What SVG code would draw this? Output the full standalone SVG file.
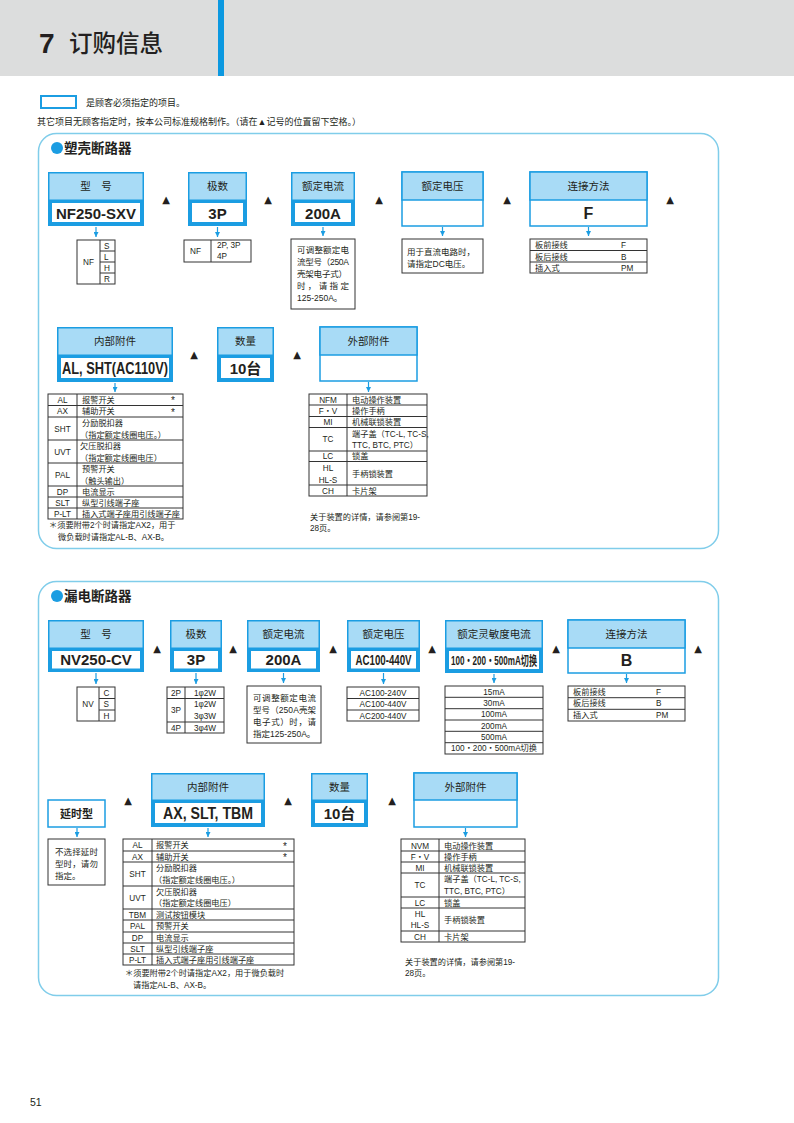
<svg xmlns="http://www.w3.org/2000/svg" width="794" height="1123" viewBox="0 0 794 1123">
<defs>
<style>
text{font-family:"Liberation Sans","Noto Sans CJK SC",sans-serif;fill:#231f20}
.pn{fill:none;stroke:#80cdea;stroke-width:1.5}
.ob{fill:#1b9de2}
.hd{fill:#a8dbf6}
.wb{fill:#fff}
.ub{fill:#fff;stroke:#1b9de2;stroke-width:1.5}
.uh{fill:#a8dbf6;stroke:#1b9de2;stroke-width:1.5}
.tb{fill:#fff;stroke:#333;stroke-width:1}
.ln{stroke:#333;stroke-width:1;fill:none}
.lb{font-size:10.5px;text-anchor:middle}
.v{font-size:15px;font-weight:bold;text-anchor:middle}
.t{font-size:8.2px}
.tc{font-size:8.2px;text-anchor:middle}
.tr{font-size:10px;text-anchor:middle;font-family:"DejaVu Sans",sans-serif}
.ar{stroke:#1b9de2;stroke-width:1.2;fill:none}
.st{font-size:13.5px;font-weight:bold}
</style>
<marker id="ah" viewBox="0 0 6 6" refX="6" refY="3" markerWidth="5" markerHeight="5" markerUnits="userSpaceOnUse" orient="auto"><path d="M0,0 L6,3 L0,6 z" fill="#1b9de2"/></marker>
</defs>
<rect width="794" height="1123" fill="#fff"/>
<g id="header">
<rect x="0" y="0" width="794" height="76" fill="#dcdddd"/>
<rect x="218" y="0" width="6" height="76" fill="#0b98e0"/>
<text x="39" y="53" style="font-size:28px;font-weight:bold">7</text>
<text x="69" y="52" style="font-size:23.5px;font-weight:500;font-family:'Noto Sans CJK SC',sans-serif">订购信息</text>
</g>
<g id="legend">
<rect x="41" y="96" width="35" height="12" fill="#fff" stroke="#1b9de2" stroke-width="2"/>
<text x="86" y="106" style="font-size:9px">是顾客必须指定的项目。</text>
<text x="37" y="124.5" style="font-size:9px">其它项目无顾客指定时，按本公司标准规格制作。（请在▲记号的位置留下空格。）</text>
</g>

<g id="section1">
<rect class="pn" x="38.5" y="133.5" width="680" height="415" rx="18"/>
<circle cx="57" cy="148" r="6" fill="#1b9de2"/>
<text class="st" x="64" y="153">塑壳断路器</text>
</g>

<g id="s1-model">
<rect class="ob" x="48" y="172" width="96" height="54"/>
<rect class="hd" x="49.5" y="173.5" width="93" height="26"/>
<rect class="wb" x="52" y="203" width="88" height="19"/>
<text class="lb" x="96" y="190">型　号</text>
<text class="v" x="96" y="218.5">NF250-SXV</text>
</g>
<g id="s1-poles">
<rect class="ob" x="188" y="172" width="59" height="54"/>
<rect class="hd" x="189.5" y="173.5" width="56" height="26"/>
<rect class="wb" x="192" y="203" width="51" height="19"/>
<text class="lb" x="217.5" y="190">极数</text>
<text class="v" x="217.5" y="218.5">3P</text>
</g>
<g id="s1-current">
<rect class="ob" x="291" y="172" width="64" height="54"/>
<rect class="hd" x="292.5" y="173.5" width="61" height="26"/>
<rect class="wb" x="295" y="203" width="56" height="19"/>
<text class="lb" x="323" y="190">额定电流</text>
<text class="v" x="323" y="218.5">200A</text>
</g>
<g id="s1-voltage">
<rect class="ub" x="402" y="172" width="81" height="54"/>
<rect class="uh" x="402" y="172" width="81" height="28"/>
<text class="lb" x="442.5" y="190">额定电压</text>
</g>
<g id="s1-conn">
<rect class="ub" x="530" y="172" width="117" height="54"/>
<rect class="uh" x="530" y="172" width="117" height="28"/>
<text class="lb" x="588.5" y="190">连接方法</text>
<text class="v" x="588.5" y="219" style="font-size:16px">F</text>
</g>
<g id="s1-sep1">
<text class="tr" x="166" y="202.5">▲</text>
<text class="tr" x="268" y="202.5">▲</text>
<text class="tr" x="379" y="202.5">▲</text>
<text class="tr" x="507" y="202.5">▲</text>
<text class="tr" x="670" y="202.5">▲</text>
</g>

<g id="s1-t-model">
<rect class="tb" x="77" y="240" width="38" height="44"/>
<path class="ln" d="M100,240 V284 M100,251 H115 M100,262 H115 M100,273 H115"/>
<text class="tc" x="88.5" y="265">NF</text>
<text class="t" x="104" y="248.5">S</text>
<text class="t" x="104" y="259.5">L</text>
<text class="t" x="104" y="270.5">H</text>
<text class="t" x="104" y="281.5">R</text>
</g>
<g id="s1-t-poles">
<rect class="tb" x="184" y="240" width="67" height="22"/>
<path class="ln" d="M211,240 V262"/>
<text class="t" x="190" y="254">NF</text>
<text class="t" x="217" y="248">2P, 3P</text>
<text class="t" x="217" y="259">4P</text>
</g>
<g id="s1-t-current">
<rect class="tb" x="291" y="239" width="64" height="70"/>
<text class="t" x="297" y="253" textLength="52" style="font-size:8.5px">可调整额定电</text>
<text class="t" x="297" y="265" textLength="52" style="font-size:8.5px">流型号（250A</text>
<text class="t" x="297" y="277" textLength="50" style="font-size:8.5px">壳架电子式）</text>
<text class="t" x="297" y="289" textLength="52" style="font-size:8.5px">时，请指定</text>
<text class="t" x="297" y="301" style="font-size:8.5px">125-250A。</text>
</g>
<g id="s1-t-voltage">
<rect class="tb" x="402" y="239" width="81" height="34"/>
<text class="t" x="407" y="255" style="font-size:8.5px">用于直流电路时，</text>
<text class="t" x="407" y="267" style="font-size:8.5px">请指定DC电压。</text>
</g>
<g id="s1-t-conn">
<rect class="tb" x="530" y="239" width="117" height="34"/>
<path class="ln" d="M530,250.5 H647 M530,262 H647"/>
<text class="t" x="535" y="248">板前接线</text><text class="t" x="621" y="248">F</text>
<text class="t" x="535" y="259.5">板后接线</text><text class="t" x="621" y="259.5">B</text>
<text class="t" x="535" y="271">插入式</text><text class="t" x="621" y="271">PM</text>
</g>

<g id="s1-internal">
<rect class="ob" x="57" y="327" width="116" height="55"/>
<rect class="hd" x="58.5" y="328.5" width="113" height="26"/>
<rect class="wb" x="61" y="358" width="108" height="20"/>
<text class="lb" x="115" y="345">内部附件</text>
<text class="v" x="115" y="374" textLength="106" lengthAdjust="spacingAndGlyphs" style="font-size:16px">AL, SHT(AC110V)</text>
</g>
<g id="s1-qty">
<rect class="ob" x="217" y="327" width="57" height="55"/>
<rect class="hd" x="218.5" y="328.5" width="54" height="26"/>
<rect class="wb" x="221" y="358" width="49" height="20"/>
<text class="lb" x="245.5" y="345">数量</text>
<text class="v" x="245.5" y="374">10台</text>
</g>
<g id="s1-external">
<rect class="ub" x="320" y="327" width="97" height="54"/>
<rect class="uh" x="320" y="327" width="97" height="28"/>
<text class="lb" x="368.5" y="345">外部附件</text>
</g>
<g id="s1-sep2">
<text class="tr" x="194" y="358">▲</text>
<text class="tr" x="297" y="358">▲</text>
</g>

<g id="s1-t-internal">
<rect class="tb" x="48" y="394" width="135" height="125"/>
<path class="ln" d="M77,394 V519 M48,405.5 H183 M48,417 H183 M48,440 H183 M48,463 H183 M48,486 H183 M48,497 H183 M48,508 H183"/>
<text class="tc" x="62.5" y="402.5">AL</text><text class="t" x="82" y="402.5">报警开关</text><text class="t" x="171" y="404" style="font-size:10px">*</text>
<text class="tc" x="62.5" y="414">AX</text><text class="t" x="82" y="414">辅助开关</text><text class="t" x="171" y="415.5" style="font-size:10px">*</text>
<text class="tc" x="62.5" y="431.5">SHT</text><text class="t" x="82" y="426">分励脱扣器</text><text class="t" x="80" y="437.5">（指定额定线圈电压。）</text>
<text class="tc" x="62.5" y="454.5">UVT</text><text class="t" x="80" y="449">欠压脱扣器</text><text class="t" x="80" y="460.5">（指定额定线圈电压）</text>
<text class="tc" x="62.5" y="477.5">PAL</text><text class="t" x="82" y="472">预警开关</text><text class="t" x="80" y="483.5">（触头输出）</text>
<text class="tc" x="62.5" y="494.5">DP</text><text class="t" x="82" y="494.5">电流显示</text>
<text class="tc" x="62.5" y="505.5">SLT</text><text class="t" x="82" y="505.5">纵型引线端子座</text>
<text class="tc" x="62.5" y="516.5">P-LT</text><text class="t" x="82" y="516.5" textLength="98">插入式端子座用引线端子座</text>
<text class="t" x="49" y="527.5">＊须要附带2个时请指定AX2，用于</text>
<text class="t" x="58" y="540">微负载时请指定AL-B、AX-B。</text>
</g>
<g id="s1-t-external">
<rect class="tb" x="309" y="394" width="118" height="102"/>
<path class="ln" d="M347,394 V496 M309,405 H427 M309,416.5 H427 M309,427.5 H427 M309,451 H427 M309,461.5 H427 M309,485 H427"/>
<text class="tc" x="328" y="402.5">NFM</text><text class="t" x="352" y="402.5">电动操作装置</text>
<text class="tc" x="328" y="414">F・V</text><text class="t" x="352" y="414">操作手柄</text>
<text class="tc" x="328" y="425">MI</text><text class="t" x="352" y="425">机械联锁装置</text>
<text class="tc" x="328" y="442">TC</text><text class="t" x="352" y="437">端子盖（TC-L, TC-S,</text><text class="t" x="352" y="448">TTC, BTC, PTC）</text>
<text class="tc" x="328" y="459">LC</text><text class="t" x="352" y="459">锁盖</text>
<text class="tc" x="328" y="471">HL</text><text class="tc" x="328" y="482.5">HL-S</text><text class="t" x="352" y="476.5">手柄锁装置</text>
<text class="tc" x="328" y="493.5">CH</text><text class="t" x="352" y="493.5">卡片架</text>
<text class="t" x="310" y="520">关于装置的详情，请参阅第19-</text>
<text class="t" x="310" y="531">28页。</text>
</g>

<g id="section2">
<rect class="pn" x="38.5" y="581.5" width="680" height="414" rx="18"/>
<circle cx="57" cy="596" r="6" fill="#1b9de2"/>
<text class="st" x="64" y="601">漏电断路器</text>
</g>
<g id="s2-model">
<rect class="ob" x="48" y="620" width="96" height="52"/>
<rect class="hd" x="49.5" y="621.5" width="93" height="26"/>
<rect class="wb" x="52" y="651" width="88" height="17.5"/>
<text class="lb" x="96" y="638">型　号</text>
<text class="v" x="96" y="665">NV250-CV</text>
</g>
<g id="s2-poles">
<rect class="ob" x="170" y="620" width="52" height="52"/>
<rect class="hd" x="171.5" y="621.5" width="49" height="26"/>
<rect class="wb" x="174" y="651" width="44" height="17.5"/>
<text class="lb" x="196" y="638">极数</text>
<text class="v" x="196" y="665">3P</text>
</g>
<g id="s2-current">
<rect class="ob" x="247" y="620" width="73" height="52"/>
<rect class="hd" x="248.5" y="621.5" width="70" height="26"/>
<rect class="wb" x="251" y="651" width="65" height="17.5"/>
<text class="lb" x="283.5" y="638">额定电流</text>
<text class="v" x="283.5" y="665">200A</text>
</g>
<g id="s2-voltage">
<rect class="ob" x="347" y="620" width="73" height="52"/>
<rect class="hd" x="348.5" y="621.5" width="70" height="26"/>
<rect class="wb" x="351" y="651" width="65" height="17.5"/>
<text class="lb" x="383.5" y="638">额定电压</text>
<text class="v" x="383.5" y="665" textLength="56" lengthAdjust="spacingAndGlyphs" style="font-size:14px">AC100-440V</text>
</g>
<g id="s2-sens">
<rect class="ob" x="445" y="620" width="98" height="53"/>
<rect class="hd" x="446.5" y="621.5" width="95" height="26"/>
<rect class="wb" x="449" y="651" width="90" height="18"/>
<text class="lb" x="494" y="638">额定灵敏度电流</text>
<text class="v" x="494" y="665" textLength="86" lengthAdjust="spacingAndGlyphs" style="font-size:13px">100・200・500mA切换</text>
</g>
<g id="s2-conn">
<rect class="ub" x="568" y="620" width="117" height="53"/>
<rect class="uh" x="568" y="620" width="117" height="28"/>
<text class="lb" x="626.5" y="638">连接方法</text>
<text class="v" x="626.5" y="666" style="font-size:16px">B</text>
</g>
<g id="s2-sep1">
<text class="tr" x="157" y="652">▲</text>
<text class="tr" x="233" y="652">▲</text>
<text class="tr" x="333" y="652">▲</text>
<text class="tr" x="432" y="652">▲</text>
<text class="tr" x="556" y="652">▲</text>
<text class="tr" x="698" y="652">▲</text>
</g>

<g id="s2-t-model">
<rect class="tb" x="77" y="687" width="38" height="34"/>
<path class="ln" d="M99,687 V721 M99,698.5 H115 M99,710 H115"/>
<text class="tc" x="88" y="707">NV</text>
<text class="t" x="103.5" y="695.5">C</text>
<text class="t" x="103.5" y="707">S</text>
<text class="t" x="103.5" y="718.5">H</text>
</g>
<g id="s2-t-poles">
<rect class="tb" x="167" y="687" width="57" height="46"/>
<path class="ln" d="M185,687 V733 M167,698.5 H224 M167,722 H224"/>
<text class="tc" x="176" y="695.5">2P</text><text class="tc" x="205" y="695.5">1φ2W</text>
<text class="tc" x="176" y="713">3P</text><text class="tc" x="205" y="707">1φ2W</text><text class="tc" x="205" y="718.5">3φ3W</text>
<text class="tc" x="176" y="730.5">4P</text><text class="tc" x="205" y="730.5">3φ4W</text>
</g>
<g id="s2-t-current">
<rect class="tb" x="247" y="686" width="74" height="57"/>
<text class="t" x="253" y="701" textLength="63" style="font-size:8.5px">可调整额定电流</text>
<text class="t" x="253" y="713" textLength="63" style="font-size:8.5px">型号（250A壳架</text>
<text class="t" x="253" y="725" textLength="63" style="font-size:8.5px">电子式）时，请</text>
<text class="t" x="253" y="737" style="font-size:8.5px">指定125-250A。</text>
</g>
<g id="s2-t-voltage">
<rect class="tb" x="347" y="687" width="72" height="34"/>
<path class="ln" d="M347,698.5 H419 M347,710 H419"/>
<text class="tc" x="383" y="695.5">AC100-240V</text>
<text class="tc" x="383" y="707">AC100-440V</text>
<text class="tc" x="383" y="718.5">AC200-440V</text>
</g>
<g id="s2-t-sens">
<rect class="tb" x="445" y="686" width="98" height="68"/>
<path class="ln" d="M445,697.3 H543 M445,708.7 H543 M445,720 H543 M445,731.3 H543 M445,742.7 H543"/>
<text class="tc" x="494" y="694.5">15mA</text>
<text class="tc" x="494" y="705.8">30mA</text>
<text class="tc" x="494" y="717.2">100mA</text>
<text class="tc" x="494" y="728.5">200mA</text>
<text class="tc" x="494" y="739.8">500mA</text>
<text class="tc" x="494" y="751.2">100・200・500mA切换</text>
</g>
<g id="s2-t-conn">
<rect class="tb" x="568" y="686" width="117" height="35"/>
<path class="ln" d="M568,697.7 H685 M568,709.3 H685"/>
<text class="t" x="573" y="694.8">板前接线</text><text class="t" x="656" y="694.8">F</text>
<text class="t" x="573" y="706.4">板后接线</text><text class="t" x="656" y="706.4">B</text>
<text class="t" x="573" y="718">插入式</text><text class="t" x="656" y="718">PM</text>
</g>

<g id="s2-delay">
<rect class="ub" x="48" y="800" width="57" height="27"/>
<text class="lb" x="76.5" y="818" style="font-weight:bold;font-size:11px">延时型</text>
</g>
<g id="s2-internal">
<rect class="ob" x="151" y="773" width="114" height="54"/>
<rect class="hd" x="152.5" y="774.5" width="111" height="25"/>
<rect class="wb" x="155" y="803" width="106" height="20"/>
<text class="lb" x="208" y="790.5">内部附件</text>
<text class="v" x="208" y="818.5" textLength="90" lengthAdjust="spacingAndGlyphs" style="font-size:16px">AX, SLT, TBM</text>
</g>
<g id="s2-qty">
<rect class="ob" x="311" y="773" width="57" height="54"/>
<rect class="hd" x="312.5" y="774.5" width="54" height="25"/>
<rect class="wb" x="315" y="803" width="49" height="20"/>
<text class="lb" x="339.5" y="790.5">数量</text>
<text class="v" x="339.5" y="818.5">10台</text>
</g>
<g id="s2-external">
<rect class="ub" x="414" y="773" width="103" height="54"/>
<rect class="uh" x="414" y="773" width="103" height="27"/>
<text class="lb" x="465.5" y="790.5">外部附件</text>
</g>
<g id="s2-sep2">
<text class="tr" x="128" y="804">▲</text>
<text class="tr" x="288" y="804">▲</text>
<text class="tr" x="392" y="804">▲</text>
</g>

<g id="s2-t-delay">
<rect class="tb" x="48" y="839" width="57" height="46"/>
<text class="t" x="55" y="855" textLength="43" style="font-size:8.5px">不选择延时</text>
<text class="t" x="55" y="867" textLength="43" style="font-size:8.5px">型时，请勿</text>
<text class="t" x="55" y="879" style="font-size:8.5px">指定。</text>
</g>
<g id="s2-t-internal">
<rect class="tb" x="123" y="839" width="171" height="126"/>
<path class="ln" d="M152,839 V965 M123,851 H294 M123,862 H294 M123,886 H294 M123,909 H294 M123,920 H294 M123,932 H294 M123,943 H294 M123,954 H294"/>
<text class="tc" x="137.5" y="848">AL</text><text class="t" x="156" y="848">报警开关</text><text class="t" x="283" y="849.5" style="font-size:10px">*</text>
<text class="tc" x="137.5" y="859.5">AX</text><text class="t" x="156" y="859.5">辅助开关</text><text class="t" x="283" y="861" style="font-size:10px">*</text>
<text class="tc" x="137.5" y="877">SHT</text><text class="t" x="156" y="871">分励脱扣器</text><text class="t" x="154" y="882.5">（指定额定线圈电压。）</text>
<text class="tc" x="137.5" y="900.5">UVT</text><text class="t" x="156" y="894.5">欠压脱扣器</text><text class="t" x="154" y="906">（指定额定线圈电压）</text>
<text class="tc" x="137.5" y="917.5">TBM</text><text class="t" x="156" y="917.5">测试按钮模块</text>
<text class="tc" x="137.5" y="929">PAL</text><text class="t" x="156" y="929">预警开关</text>
<text class="tc" x="137.5" y="940.5">DP</text><text class="t" x="156" y="940.5">电流显示</text>
<text class="tc" x="137.5" y="951.5">SLT</text><text class="t" x="156" y="951.5">纵型引线端子座</text>
<text class="tc" x="137.5" y="962.5">P-LT</text><text class="t" x="156" y="962.5">插入式端子座用引线端子座</text>
<text class="t" x="125" y="976">＊须要附带2个时请指定AX2，用于微负载时</text>
<text class="t" x="133" y="987.5">请指定AL-B、AX-B。</text>
</g>
<g id="s2-t-external">
<rect class="tb" x="401" y="839" width="124" height="103"/>
<path class="ln" d="M439,839 V942 M401,851 H525 M401,862 H525 M401,873 H525 M401,897 H525 M401,908 H525 M401,931 H525"/>
<text class="tc" x="420" y="848.5">NVM</text><text class="t" x="444" y="848.5">电动操作装置</text>
<text class="tc" x="420" y="859.5">F・V</text><text class="t" x="444" y="859.5">操作手柄</text>
<text class="tc" x="420" y="870.5">MI</text><text class="t" x="444" y="870.5">机械联锁装置</text>
<text class="tc" x="420" y="888">TC</text><text class="t" x="444" y="882">端子盖（TC-L, TC-S,</text><text class="t" x="444" y="893.5">TTC, BTC, PTC）</text>
<text class="tc" x="420" y="905.5">LC</text><text class="t" x="444" y="905.5">锁盖</text>
<text class="tc" x="420" y="916.5">HL</text><text class="tc" x="420" y="928">HL-S</text><text class="t" x="444" y="922.5">手柄锁装置</text>
<text class="tc" x="420" y="939.5">CH</text><text class="t" x="444" y="939.5">卡片架</text>
<text class="t" x="405" y="965">关于装置的详情，请参阅第19-</text>
<text class="t" x="405" y="976">28页。</text>
</g>

<g id="connectors">
<line class="ar" x1="96" y1="227" x2="96" y2="237" marker-end="url(#ah)"/>
<line class="ar" x1="217.5" y1="227" x2="217.5" y2="237" marker-end="url(#ah)"/>
<line class="ar" x1="323" y1="227" x2="323" y2="236" marker-end="url(#ah)"/>
<line class="ar" x1="442.5" y1="227" x2="442.5" y2="236" marker-end="url(#ah)"/>
<line class="ar" x1="588.5" y1="227" x2="588.5" y2="236" marker-end="url(#ah)"/>
<line class="ar" x1="115" y1="383" x2="115" y2="392" marker-end="url(#ah)"/>
<line class="ar" x1="368.5" y1="382" x2="368.5" y2="392" marker-end="url(#ah)"/>
<line class="ar" x1="96" y1="673" x2="96" y2="684" marker-end="url(#ah)"/>
<line class="ar" x1="196" y1="673" x2="196" y2="684" marker-end="url(#ah)"/>
<line class="ar" x1="283.5" y1="673" x2="283.5" y2="683" marker-end="url(#ah)"/>
<line class="ar" x1="383.5" y1="673" x2="383.5" y2="684" marker-end="url(#ah)"/>
<line class="ar" x1="494" y1="674" x2="494" y2="683" marker-end="url(#ah)"/>
<line class="ar" x1="626.5" y1="674" x2="626.5" y2="683" marker-end="url(#ah)"/>
<line class="ar" x1="77" y1="828" x2="77" y2="837" marker-end="url(#ah)"/>
<line class="ar" x1="208" y1="828" x2="208" y2="837" marker-end="url(#ah)"/>
<line class="ar" x1="465.5" y1="828" x2="465.5" y2="837" marker-end="url(#ah)"/>
</g>
<text x="30" y="1106" style="font-size:10.5px">51</text>
</svg>
